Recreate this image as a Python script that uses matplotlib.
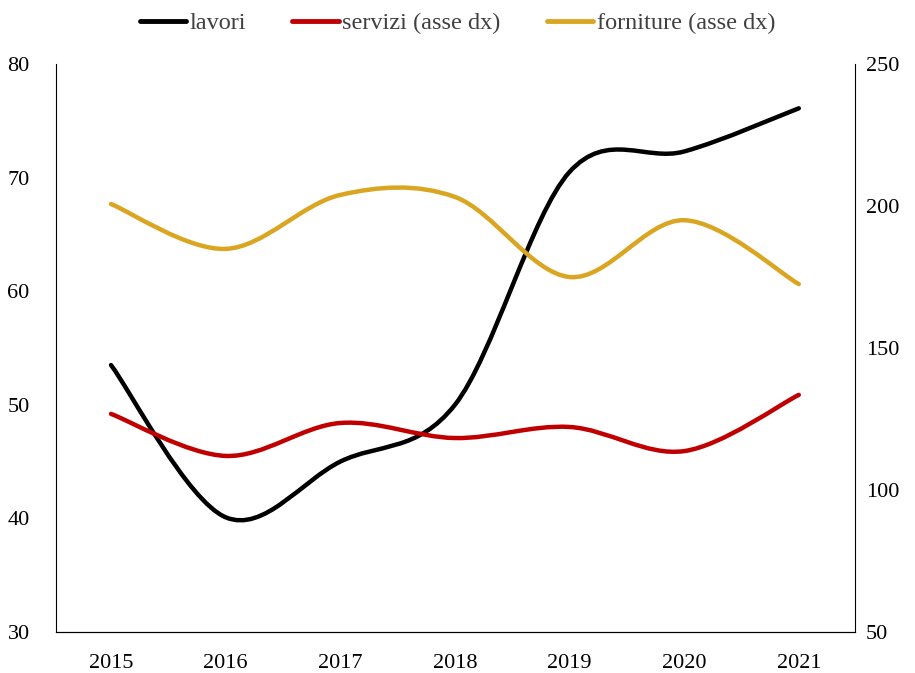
import matplotlib
matplotlib.use("Agg")
import matplotlib.pyplot as plt
import numpy as np
from matplotlib.path import Path
from matplotlib.patches import PathPatch
from matplotlib.lines import Line2D

years = ["2015", "2016", "2017", "2018", "2019", "2020", "2021"]
lavori = [53.5, 40.1, 45.0, 50.0, 70.5, 72.3, 76.1]
servizi = [126.8, 112.0, 123.6, 118.3, 122.2, 113.7, 133.5]
forniture = [200.7, 184.9, 203.9, 203.2, 175.0, 195.0, 172.5]

plt.rcParams["font.family"] = ["Liberation Serif", "DejaVu Serif"]


def smooth_path(x, y):
    # excel-like smoothed line: cubic bezier through every point
    pts = np.column_stack([x, y]).astype(float)
    n = len(pts)
    verts = [pts[0]]
    codes = [Path.MOVETO]
    for i in range(n - 1):
        p0 = pts[max(i - 1, 0)]
        p1 = pts[i]
        p2 = pts[i + 1]
        p3 = pts[min(i + 2, n - 1)]
        c1 = p1 + (p2 - p0) / 6
        c2 = p2 - (p3 - p1) / 6
        verts += [c1, c2, p2]
        codes += [Path.CURVE4] * 3
    return Path(verts, codes)


def draw(ax, x, y, color):
    patch = PathPatch(smooth_path(x, y), facecolor="none", edgecolor=color,
                      lw=3.2, capstyle="round", joinstyle="round")
    ax.add_patch(patch)


x = np.arange(len(years))

fig = plt.figure(figsize=(9.15, 6.73), dpi=100)
ax = fig.add_axes([0.0612, 0.0609, 0.8732, 0.8440])
ax2 = ax.twinx()

draw(ax, x, lavori, "black")
draw(ax2, x, servizi, "#C00000")
draw(ax2, x, forniture, "#DAA520")

ax.set_xlim(-0.48, 6.49)
ax.set_ylim(30, 80)
ax2.set_ylim(50, 250)
ax.set_yticks([30, 40, 50, 60, 70, 80])
ax2.set_yticks([50, 100, 150, 200, 250])
ax.set_xticks(x)
ax.set_xticklabels(years)

for a in (ax, ax2):
    a.spines["top"].set_visible(False)
    a.tick_params(length=0, labelsize=16, colors="black")
ax.tick_params(axis="y", pad=19)
ax.tick_params(axis="x", pad=16)
ax2.tick_params(axis="y", pad=8)
ax2.spines["left"].set_visible(False)
ax.spines["right"].set_visible(False)

handles = [Line2D([], [], color=c, lw=3.5, solid_capstyle="round")
           for c in ("black", "#C00000", "#DAA520")]
leg = fig.legend(handles, ["lavori", "servizi (asse dx)", "forniture (asse dx)"],
                 loc="upper center", bbox_to_anchor=(0.5, 1.014), ncol=3, frameon=False,
                 fontsize=17.5, handlelength=1.9, handletextpad=0.15, columnspacing=1.9)
for t in leg.get_texts():
    t.set_color("#404040")

fig.savefig("out.png", dpi=100)
